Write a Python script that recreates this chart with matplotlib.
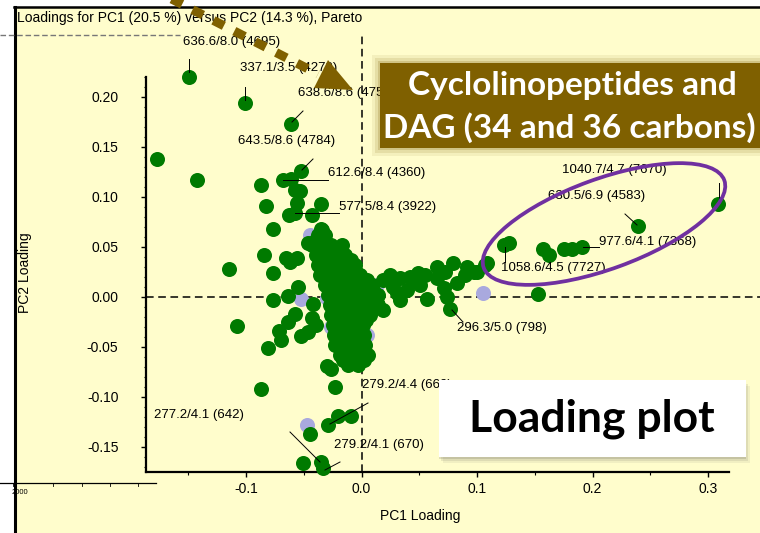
import matplotlib
matplotlib.use("Agg")
import matplotlib.pyplot as plt
import numpy as np
from matplotlib.patches import Rectangle, Ellipse, Polygon

# loadings (PC1, PC2)
outlier_pc1 = [-0.149, -0.101, -0.061, -0.177, -0.142, -0.052, -0.068, -0.061, -0.087, -0.053,
               -0.058, -0.083, -0.056, -0.035, -0.063, -0.058, -0.043, -0.077, -0.035, -0.046,
               -0.084, -0.065, -0.062, -0.056, -0.115, -0.077, -0.055, -0.077, -0.064, -0.042,
               -0.108, -0.058, -0.064, -0.043, -0.039, -0.071, -0.070, -0.052, -0.046, -0.081,
               -0.030, -0.026, -0.023, -0.087, -0.020, -0.009, -0.029, -0.045, -0.051, -0.035,
               -0.033, -0.034, -0.039]
outlier_pc2 = [0.220, 0.194, 0.173, 0.138, 0.117, 0.126, 0.117, 0.118, 0.112, 0.106,
               0.107, 0.091, 0.094, 0.093, 0.082, 0.084, 0.082, 0.068, 0.068, 0.054,
               0.042, 0.039, 0.035, 0.039, 0.028, 0.024, 0.010, -0.003, 0.001, -0.007,
               -0.029, -0.017, -0.025, -0.021, -0.028, -0.034, -0.043, -0.039, -0.035, -0.051,
               -0.069, -0.072, -0.090, -0.092, -0.119, -0.119, -0.128, -0.137, -0.166, -0.165,
               -0.171, 0.067, 0.057]

# the crowded centre, row by row
blob_pc1 = [-0.038, -0.032,
            -0.043, -0.034, -0.026, -0.017,
            -0.039, -0.031, -0.022, -0.014,
            -0.038, -0.029, -0.020, -0.012, -0.006,
            -0.036, -0.027, -0.019, -0.010, -0.001,
            -0.032, -0.024, -0.015, -0.006, 0.002, 0.009,
            -0.029, -0.020, -0.012, -0.003, 0.006, 0.014,
            -0.027, -0.019, -0.010, -0.001, 0.007, 0.014,
            -0.026, -0.017, -0.008, 0.000, 0.007,
            -0.025, -0.016, -0.007, 0.001,
            -0.024, -0.015, -0.006, 0.002,
            -0.023, -0.014, -0.006, 0.003,
            -0.019, -0.010, -0.001, 0.006,
            -0.012, -0.003,
            -0.030, -0.021,
            -0.034, -0.025, -0.016, -0.009,
            -0.033, -0.024, -0.015, -0.006,
            -0.030, -0.021, -0.012, -0.003, 0.005,
            -0.026, -0.017, -0.008, 0.001, 0.010,
            -0.024, -0.015, -0.006, 0.003, 0.011,
            -0.022, -0.013, -0.004, 0.004,
            -0.021, -0.012, -0.003, 0.004,
            -0.020, -0.011, -0.002,
            -0.019, -0.010, -0.001,
            -0.015, -0.006, 0.002,
            -0.016, -0.007, 0.002]
blob_pc2 = [0.062, 0.062,
            0.052, 0.052, 0.052, 0.052,
            0.042, 0.042, 0.042, 0.042,
            0.032, 0.032, 0.032, 0.032, 0.032,
            0.022, 0.022, 0.022, 0.022, 0.022,
            0.012, 0.012, 0.012, 0.012, 0.012, 0.012,
            0.002, 0.002, 0.002, 0.002, 0.002, 0.002,
            -0.008, -0.008, -0.008, -0.008, -0.008, -0.008,
            -0.018, -0.018, -0.018, -0.018, -0.018,
            -0.028, -0.028, -0.028, -0.028,
            -0.038, -0.038, -0.038, -0.038,
            -0.048, -0.048, -0.048, -0.048,
            -0.058, -0.058, -0.058, -0.058,
            -0.068, -0.068,
            0.047, 0.047,
            0.037, 0.037, 0.037, 0.037,
            0.027, 0.027, 0.027, 0.027,
            0.017, 0.017, 0.017, 0.017, 0.017,
            0.007, 0.007, 0.007, 0.007, 0.007,
            -0.003, -0.003, -0.003, -0.003, -0.003,
            -0.013, -0.013, -0.013, -0.013,
            -0.023, -0.023, -0.023, -0.023,
            -0.033, -0.033, -0.033,
            -0.043, -0.043, -0.043,
            -0.053, -0.053, -0.053,
            -0.063, -0.063, -0.063]

arm_pc1 = [0.005, 0.019, 0.033, 0.049, 0.065, 0.079, 0.091, 0.097, 0.107, 0.013,
           0.033, 0.031, 0.039, 0.057, 0.071, 0.074, 0.077, 0.065, 0.083, 0.051,
           0.045, 0.027, 0.019, 0.025, 0.042, 0.055, 0.072, 0.090]
arm_pc2 = [0.014, 0.017, 0.019, 0.024, 0.030, 0.034, 0.030, 0.025, 0.032, -0.006,
           -0.003, 0.004, 0.007, -0.002, 0.009, 0.000, -0.012, 0.019, 0.014, 0.012,
           0.017, 0.010, -0.013, 0.022, 0.020, 0.022, 0.025, 0.022]

dag_pc1 = [0.123, 0.128, 0.157, 0.162, 0.175, 0.182, 0.191, 0.239, 0.309, 0.100, 0.109, 0.153]
dag_pc2 = [0.052, 0.054, 0.048, 0.042, 0.048, 0.048, 0.050, 0.071, 0.093, 0.025, 0.034, 0.003]

blue_pc1 = [-0.045, -0.052, -0.030, -0.026, 0.005, 0.013, 0.105, -0.047]
blue_pc2 = [0.062, -0.002, -0.001, -0.030, -0.038, 0.012, 0.004, -0.128]

peak_labels = ["636.6/8.0 (4695)", "337.1/3.5 (4279)", "638.6/8.6 (4750)", "643.5/8.6 (4784)",
               "612.6/8.4 (4360)", "577.5/8.4 (3922)", "1040.7/4.7 (7670)", "630.5/6.9 (4583)",
               "977.6/4.1 (7368)", "1058.6/4.5 (7727)", "296.3/5.0 (798)", "279.2/4.4 (669)",
               "279.2/4.1 (670)", "277.2/4.1 (642)"]

x_ticks = [-0.1, 0.0, 0.1, 0.2, 0.3]
y_ticks = [-0.15, -0.10, -0.05, 0.00, 0.05, 0.10, 0.15, 0.20]

# label placement in pixels: text (left, middle) and leader line
label_pos = [(183, 42), (240, 68), (298, 93), (238, 141), (328, 173), (339, 207),
             (562, 170), (548, 196), (599, 242), (501, 268), (457, 328), (362, 385),
             (334, 445), (154, 415)]
leader = [((189, 59), (189, 72)), ((245, 87), (245, 100)), ((303, 111), (292, 122)),
          ((313, 159), (302, 170)), ((283, 180), (328, 180)), ((295, 213), (339, 213)),
          ((719, 183), (719, 200)), ((625, 214), (637, 225)), ((583, 247), (599, 247)),
          ((505, 247), (505, 262)), ((452, 310), (463, 322)), ((330, 424), (368, 403)),
          ((325, 470), (340, 462)), ((290, 432), (320, 462))]

W, H = 760, 533
plt.rcParams['font.family'] = ['Liberation Sans', 'DejaVu Sans']
fig = plt.figure(figsize=(7.6, 5.33), dpi=100)
fig.patch.set_facecolor('white')

green = '#007A00'
blue = '#A9A9DE'
yellow = '#FFFDCC'
brown = '#7F6000'

# background layer (pixel coordinates)
bg = fig.add_axes([0, 0, 1, 1], zorder=0)
bg.set_xlim(0, W)
bg.set_ylim(H, 0)
bg.axis('off')
bg.add_patch(Rectangle((14, 7), W - 14, H - 7, facecolor=yellow, edgecolor='none'))
bg.plot([14.5, 14.5], [7, H], color='black', lw=2.2)
bg.plot([14, W], [7, 7], color='black', lw=1.8)
bg.plot([0, 180], [35, 35], color='#777777', lw=1.0, ls=(0, (4, 2)))
bg.plot([0, 156], [483, 483], color='black', lw=0.9)
for tx in [13, 53, 82, 110, 138]:
    bg.plot([tx, tx], [483, 486], color='black', lw=0.6)
bg.text(20, 492, "2000", fontsize=5.5, ha='center', va='center')
bg.text(17, 18, "Loadings for PC1 (20.5 %) versus PC2 (14.3 %), Pareto",
        fontsize=10, ha='left', va='center')
bg.text(25, 273, "PC2 Loading", fontsize=10, rotation=90, ha='center', va='center')
bg.text(420, 516, "PC1 Loading", fontsize=10, ha='center', va='center')

# data axes, set so that 0.0 falls where it does in the original
ax = fig.add_axes([0, 0, 1, 1], zorder=1)
ax.patch.set_alpha(0)
ax.set_xlim(-361.5 / 1155, (W - 361.5) / 1155)
ax.set_ylim((297 - H) / 1000, 297 / 1000)
for s in ['top', 'right']:
    ax.spines[s].set_visible(False)
ax.spines['left'].set_position(('data', -0.187))
ax.spines['left'].set_bounds(-0.175, 0.22)
ax.spines['bottom'].set_position(('data', -0.175))
ax.spines['bottom'].set_bounds(-0.187, 0.318)
ax.spines['left'].set_linewidth(1.6)
ax.spines['bottom'].set_linewidth(1.6)
ax.set_xticks(x_ticks)
ax.set_xticklabels(["%.1f" % v for v in x_ticks])
ax.set_yticks(y_ticks)
ax.set_yticklabels(["%.2f" % v for v in y_ticks])
ax.set_xticks([-0.15, -0.05, 0.05, 0.15, 0.25], minor=True)
ax.set_yticks(np.arange(-0.17, 0.221, 0.01), minor=True)
ax.tick_params(axis='both', which='major', direction='out', length=3.5, width=1, labelsize=10)
ax.tick_params(axis='both', which='minor', direction='out', length=1.8, width=0.8)
ax.tick_params(axis='y', which='major', pad=16)
ax.tick_params(axis='x', which='major', pad=4)

ax.plot([0, 0], [-0.175, 0.264], color='black', lw=1.1, ls=(0, (5, 3)), zorder=1)
ax.plot([-0.187, 0.345], [0, 0], color='black', lw=1.1, ls=(0, (5, 3)), zorder=1)

ax.scatter(blue_pc1, blue_pc2, s=117, color=blue, linewidths=0, zorder=2)
for px, py in [(outlier_pc1, outlier_pc2), (blob_pc1, blob_pc2),
               (arm_pc1, arm_pc2), (dag_pc1, dag_pc2)]:
    ax.scatter(px, py, s=117, color=green, linewidths=0, zorder=3)

# overlay layer: labels, callout boxes, arrow
ov = fig.add_axes([0, 0, 1, 1], zorder=2)
ov.set_xlim(0, W)
ov.set_ylim(H, 0)
ov.axis('off')
ov.patch.set_alpha(0)

for txt, (lx, ly), (p0, p1) in zip(peak_labels, label_pos, leader):
    ov.text(lx, ly, txt, fontsize=9.5, ha='left', va='center', zorder=2)
    ov.plot([p0[0], p1[0]], [p0[1], p1[1]], color='black', lw=0.7, zorder=2)

ov.add_patch(Ellipse((604, 224), 256, 90, angle=-20, fill=False,
                     edgecolor='#7030A0', lw=2.7, zorder=4))

# brown callout with soft edge
for k, a in [(8, 0.08), (5, 0.12), (2, 0.2)]:
    ov.add_patch(Rectangle((380 - k, 63 - k), W - 380 + 2 * k, 85 + 2 * k,
                           facecolor=brown, edgecolor='none', alpha=a, zorder=5))
ov.add_patch(Rectangle((380, 63), W - 380, 85, facecolor=brown, edgecolor='none', zorder=5))
ov.text(572, 86, "Cyclolinopeptides and", fontsize=24, family='Lato', weight='bold',
        color='white', ha='center', va='center', zorder=6)
ov.text(569, 128, "DAG (34 and 36 carbons)", fontsize=24, family='Lato', weight='bold',
        color='white', ha='center', va='center', zorder=6)

# white "Loading plot" box with shadow
for k, a in [(6, 0.08), (4, 0.12), (2, 0.18)]:
    ov.add_patch(Rectangle((439 - 2 + k, 380 + k), 307, 77, facecolor='#555555',
                           edgecolor='none', alpha=a, zorder=5))
ov.add_patch(Rectangle((439, 380), 307, 77, facecolor='white', edgecolor='none', zorder=5))
ov.text(592, 419, "Loading plot", fontsize=32, family='Lato', weight='bold',
        color='black', ha='center', va='center', zorder=6)

# dotted arrow
ov.plot([158, 318], [-8, 74], color=brown, lw=6.5, ls=(0, (1.3, 1.3)),
        solid_capstyle='butt', zorder=7)
ov.add_patch(Polygon([(328, 60), (314, 88), (353, 90)], closed=True,
                     facecolor=brown, edgecolor='none', zorder=7))

fig.savefig("out.png", dpi=100)
